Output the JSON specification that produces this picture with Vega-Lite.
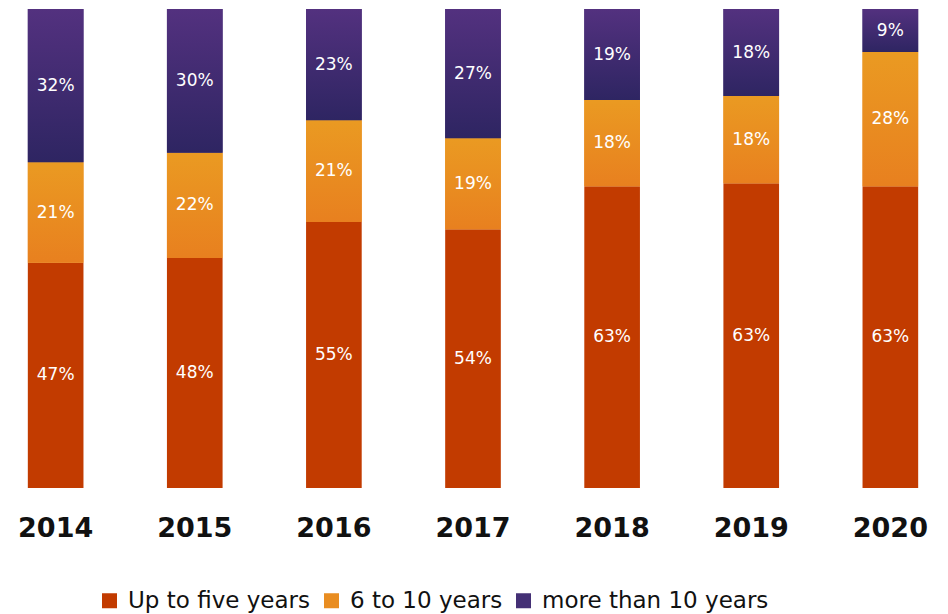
{
  "$schema": "https://vega.github.io/schema/vega-lite/v6.json",
  "autosize": {"type": "none"},
  "width": 946,
  "height": 479,
  "padding": {"left": 0, "top": 9, "right": 2, "bottom": 126},
  "config": {"view": {"stroke": null}, "font": "DejaVu Sans"},
  "data": {"values": [
    {"year": "2014", "group": "Up to five years", "order": 1, "value": 47},
    {"year": "2014", "group": "6 to 10 years", "order": 2, "value": 21},
    {"year": "2014", "group": "more than 10 years", "order": 3, "value": 32},
    {"year": "2015", "group": "Up to five years", "order": 1, "value": 48},
    {"year": "2015", "group": "6 to 10 years", "order": 2, "value": 22},
    {"year": "2015", "group": "more than 10 years", "order": 3, "value": 30},
    {"year": "2016", "group": "Up to five years", "order": 1, "value": 55},
    {"year": "2016", "group": "6 to 10 years", "order": 2, "value": 21},
    {"year": "2016", "group": "more than 10 years", "order": 3, "value": 23},
    {"year": "2017", "group": "Up to five years", "order": 1, "value": 54},
    {"year": "2017", "group": "6 to 10 years", "order": 2, "value": 19},
    {"year": "2017", "group": "more than 10 years", "order": 3, "value": 27},
    {"year": "2018", "group": "Up to five years", "order": 1, "value": 63},
    {"year": "2018", "group": "6 to 10 years", "order": 2, "value": 18},
    {"year": "2018", "group": "more than 10 years", "order": 3, "value": 19},
    {"year": "2019", "group": "Up to five years", "order": 1, "value": 63},
    {"year": "2019", "group": "6 to 10 years", "order": 2, "value": 18},
    {"year": "2019", "group": "more than 10 years", "order": 3, "value": 18},
    {"year": "2020", "group": "Up to five years", "order": 1, "value": 63},
    {"year": "2020", "group": "6 to 10 years", "order": 2, "value": 28},
    {"year": "2020", "group": "more than 10 years", "order": 3, "value": 9}
  ]},
  "transform": [
    {"stack": "value", "groupby": ["year"], "sort": [{"field": "order"}], "as": ["v0", "v1"], "offset": "normalize"},
    {"calculate": "(datum.v0 + datum.v1) / 2", "as": "mid"},
    {"calculate": "datum.value + '%'", "as": "label"}
  ],
  "encoding": {
    "x": {
      "field": "year", "type": "nominal", "title": null,
      "scale": {"paddingInner": 0.6, "paddingOuter": 0.2},
      "axis": {"domain": false, "ticks": false, "labelAngle": 0, "labelFontSize": 27, "labelFontWeight": "bold", "labelColor": "#111111", "labelPadding": 27, "labelFont": "DejaVu Sans"}
    },
    "y": {"field": "v0", "type": "quantitative", "scale": {"domain": [0, 1]}, "axis": null},
    "y2": {"field": "v1"}
  },
  "layer": [
    {
      "mark": {"type": "bar"},
      "encoding": {
        "color": {
          "field": "group", "type": "nominal",
          "scale": {
            "domain": ["Up to five years", "6 to 10 years", "more than 10 years"],
            "range": ["#C23B00", "#E98D21", "#443075"]
          },
          "legend": {
            "title": null, "orient": "none", "direction": "horizontal",
            "legendX": 98, "legendY": 580, "padding": 0,
            "symbolType": "square", "symbolSize": 225, "symbolStrokeWidth": 0,
            "labelFontSize": 23, "labelColor": "#111111", "labelFont": "DejaVu Sans",
            "labelOffset": 7, "columnPadding": 9, "labelLimit": 400
          }
        }
      }
    },
    {
      "transform": [{"filter": "datum.group === '6 to 10 years'"}],
      "mark": {"type": "bar", "color": {"gradient": "linear", "x1": 0, "y1": 0, "x2": 0, "y2": 1, "stops": [{"offset": 0, "color": "#EA9A22"}, {"offset": 1, "color": "#E8801F"}]}},
      "encoding": {}
    },
    {
      "transform": [{"filter": "datum.group === 'more than 10 years'"}],
      "mark": {"type": "bar", "color": {"gradient": "linear", "x1": 0, "y1": 0, "x2": 0, "y2": 1, "stops": [{"offset": 0, "color": "#53317F"}, {"offset": 1, "color": "#2E2562"}]}},
      "encoding": {}
    },
    {
      "mark": {"type": "text", "color": "white", "fontSize": 17, "font": "DejaVu Sans"},
      "encoding": {
        "y": {"field": "mid", "type": "quantitative", "scale": {"domain": [0, 1]}},
        "y2": null,
        "text": {"field": "label"}
      }
    }
  ]
}
